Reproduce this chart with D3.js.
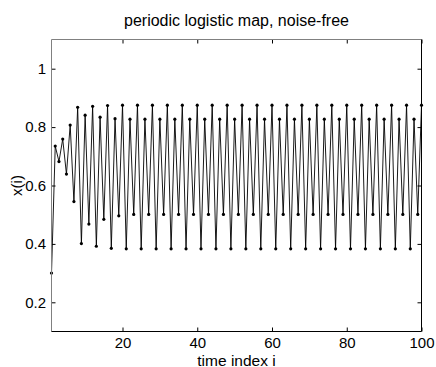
<!DOCTYPE html>
<html>
<head>
<meta charset="utf-8">
<script src="https://cdn.jsdelivr.net/npm/d3@7"></script>
<style>
  html, body { margin: 0; padding: 0; background: #fff; }
  svg { display: block; font-family: "Liberation Sans", Arial, sans-serif; }
</style>
</head>
<body>
<svg id="chart" width="436" height="367"></svg>
<script>
// Logistic map orbit x(i), i = 1..100, settling onto its period-4 cycle
const indices = d3.range(1, 101);
const transient = [
  0.300, 0.735, 0.682, 0.759, 0.639, 0.807, 0.545, 0.868, 0.401, 0.841,
  0.468, 0.871, 0.392, 0.834, 0.484, 0.874, 0.385, 0.829, 0.496, 0.875
];
const cycle = [
  0.383, 0.827, 0.501, 0.875, 0.383, 0.827, 0.501, 0.875, 0.383, 0.827,
  0.501, 0.875, 0.383, 0.827, 0.501, 0.875, 0.383, 0.827, 0.501, 0.875,
  0.383, 0.827, 0.501, 0.875, 0.383, 0.827, 0.501, 0.875, 0.383, 0.827,
  0.501, 0.875, 0.383, 0.827, 0.501, 0.875, 0.383, 0.827, 0.501, 0.875,
  0.383, 0.827, 0.501, 0.875, 0.383, 0.827, 0.501, 0.875, 0.383, 0.827,
  0.501, 0.875, 0.383, 0.827, 0.501, 0.875, 0.383, 0.827, 0.501, 0.875,
  0.383, 0.827, 0.501, 0.875, 0.383, 0.827, 0.501, 0.875, 0.383, 0.827,
  0.501, 0.875, 0.383, 0.827, 0.501, 0.875, 0.383, 0.827, 0.501, 0.875
];
const xValues = transient.concat(cycle);
const xTicks = [20, 40, 60, 80, 100];
const yTicks = [0.2, 0.4, 0.6, 0.8, 1];
const yTickLabels = ["0.2", "0.4", "0.6", "0.8", "1"];

const svg = d3.select("#chart");
const padL = 51.5, padR = 421.5, padT = 39.5, padB = 331.5;

const x = d3.scaleLinear().domain([1, 100]).range([padL, padR]);
const y = d3.scaleLinear().domain([0.1, 1.1]).range([padB, padT]);

const data = indices.map((d, k) => ({ i: d, v: xValues[k] }));

// Title and axis labels
svg.append("text")
  .attr("x", (padL + padR) / 2).attr("y", 25.5)
  .attr("text-anchor", "middle").attr("font-size", 16)
  .text("periodic logistic map, noise-free");
svg.append("text")
  .attr("x", (padL + padR) / 2).attr("y", 365.5)
  .attr("text-anchor", "middle").attr("font-size", 15.5)
  .text("time index i");
svg.append("text")
  .attr("transform", `translate(22,${(padT + padB) / 2}) rotate(-90)`)
  .attr("text-anchor", "middle").attr("font-size", 15)
  .text("x(i)");

// Series line with point markers
const plot = svg.append("g");
plot.append("path")
  .datum(data)
  .attr("fill", "none").attr("stroke", "#000").attr("stroke-width", 0.9)
  .attr("d", d3.line().x(d => x(d.i)).y(d => y(d.v)));
plot.selectAll("circle").data(data).join("circle")
  .attr("cx", d => x(d.i)).attr("cy", d => y(d.v))
  .attr("r", 1.6).attr("fill", "#000");

// Axes: ticks drawn inward, mirrored on all four sides
const tickLen = 4;
const axB = svg.append("g").attr("transform", `translate(0,${padB})`)
  .call(d3.axisBottom(x).tickValues(xTicks).tickSize(-tickLen).tickPadding(5.5));
const axT = svg.append("g").attr("transform", `translate(0,${padT})`)
  .call(d3.axisTop(x).tickValues(xTicks).tickSize(-tickLen).tickFormat(""));
const axL = svg.append("g").attr("transform", `translate(${padL},0)`)
  .call(d3.axisLeft(y).tickValues(yTicks).tickSize(-tickLen).tickPadding(5.5)
    .tickFormat((d, k) => yTickLabels[k]));
const axR = svg.append("g").attr("transform", `translate(${padR},0)`)
  .call(d3.axisRight(y).tickValues(yTicks).tickSize(-tickLen).tickFormat(""));

[axB, axT, axL, axR].forEach(g => {
  g.select(".domain").remove();
  g.selectAll(".tick line").attr("stroke", "#000");
  g.selectAll(".tick text").attr("font-size", 15).attr("fill", "#000")
    .attr("font-family", "Liberation Sans, Arial, sans-serif");
});

// Plot box
svg.append("line").attr("x1", padL).attr("x2", padR).attr("y1", padT).attr("y2", padT).attr("stroke", "#808080");
svg.append("line").attr("x1", padL).attr("x2", padL).attr("y1", padT).attr("y2", padB).attr("stroke", "#808080");
svg.append("line").attr("x1", padL).attr("x2", padR).attr("y1", padB).attr("y2", padB).attr("stroke", "#000");
svg.append("line").attr("x1", padR).attr("x2", padR).attr("y1", padT).attr("y2", padB).attr("stroke", "#000");
</script>
</body>
</html>
